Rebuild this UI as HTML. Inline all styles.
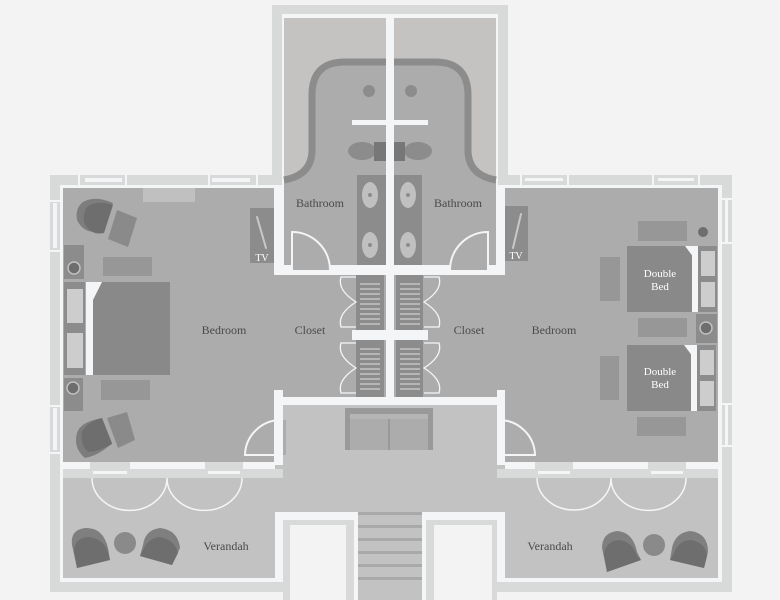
<!DOCTYPE html>
<html><head><meta charset="utf-8"><style>
html,body{margin:0;padding:0;background:#f3f3f3;}
svg{display:block;}
text{font-family:"Liberation Serif",serif;}
</style></head><body>
<svg width="780" height="600" viewBox="0 0 780 600" xmlns="http://www.w3.org/2000/svg">
<rect width="780" height="600" fill="#f3f3f3"/>
<!-- outer light walls -->
<rect x="272" y="5" width="236" height="185" fill="#d8dada"/>
<rect x="50" y="175" width="682" height="417" fill="#d8dada"/>
<!-- inner white -->
<rect x="60" y="185" width="662" height="397" fill="#f4f5f7"/>
<rect x="282" y="14" width="216" height="180" fill="#f4f5f7"/>
<!-- bathroom top -->
<rect x="284" y="18" width="102" height="252" fill="#c4c3c1"/>
<rect x="394" y="18" width="102" height="252" fill="#c4c3c1"/>
<path d="M284,180 Q312,175 312,150 L312,95 Q312,62 345,62 L435,62 Q468,62 468,95 L468,150 Q468,175 496,180 L496,270 L284,270 Z" fill="#acacac"/>
<path d="M284,180 Q312,175 312,150 L312,95 Q312,62 345,62 L435,62 Q468,62 468,95 L468,150 Q468,175 496,180" fill="none" stroke="#8c8c8c" stroke-width="7"/>
<rect x="386" y="14" width="8" height="400" fill="#f4f5f7"/>
<circle cx="369" cy="91" r="6" fill="#8c8c8c"/><circle cx="411" cy="91" r="6" fill="#8c8c8c"/>
<rect x="352" y="120" width="76" height="5" fill="#f4f5f7"/>
<ellipse cx="362" cy="151" rx="14" ry="9" fill="#8c8c8c"/><ellipse cx="418" cy="151" rx="14" ry="9" fill="#8c8c8c"/>
<rect x="374" y="142" width="12" height="19" fill="#777"/><rect x="394" y="142" width="11" height="19" fill="#777"/>
<rect x="357" y="175" width="29" height="90" fill="#8c8c8c"/><rect x="394" y="175" width="28" height="90" fill="#8c8c8c"/>
<g fill="#c0c0c0"><ellipse cx="370" cy="195" rx="8" ry="13"/><ellipse cx="370" cy="245" rx="8" ry="13"/><ellipse cx="408" cy="195" rx="8" ry="13"/><ellipse cx="408" cy="245" rx="8" ry="13"/></g>
<g fill="#8c8c8c"><circle cx="370" cy="195" r="2"/><circle cx="370" cy="245" r="2"/><circle cx="408" cy="195" r="2"/><circle cx="408" cy="245" r="2"/></g>
<!-- bedrooms floors -->
<rect x="63" y="188" width="212" height="274" fill="#acacac"/>
<rect x="283" y="275" width="103" height="122" fill="#acacac"/>
<rect x="505" y="188" width="213" height="274" fill="#acacac"/>
<rect x="394" y="275" width="103" height="122" fill="#acacac"/>
<rect x="275" y="270" width="10" height="120" fill="#acacac"/>
<rect x="495" y="270" width="10" height="120" fill="#acacac"/>
<!-- walls between -->
<rect x="274" y="185" width="9" height="90" fill="#f4f5f7"/>
<rect x="497" y="185" width="8" height="90" fill="#f4f5f7"/>
<rect x="283" y="265" width="8" height="10" fill="#f4f5f7"/>
<rect x="489" y="265" width="8" height="10" fill="#f4f5f7"/>
<rect x="330" y="265" width="120" height="10" fill="#f4f5f7"/>
<path d="M292,275 L292,232 A38,38 0 0 1 330,270" fill="none" stroke="#f4f5f7" stroke-width="2"/>
<path d="M488,275 L488,232 A38,38 0 0 0 450,270" fill="none" stroke="#f4f5f7" stroke-width="2"/>
<!-- closets -->
<rect x="352" y="330" width="76" height="10" fill="#f4f5f7"/>
<rect x="356" y="275" width="28" height="55" fill="#8c8c8c"/><rect x="396" y="275" width="27" height="55" fill="#8c8c8c"/>
<rect x="356" y="340" width="28" height="58" fill="#8c8c8c"/><rect x="396" y="340" width="27" height="58" fill="#8c8c8c"/>
<g stroke="#d0d0d0" stroke-width="1.2">
<path d="M360,284h20M360,289h20M360,294h20M360,299h20M360,304h20M360,309h20M360,314h20M360,319h20M360,324h20"/>
<path d="M400,284h20M400,289h20M400,294h20M400,299h20M400,304h20M400,309h20M400,314h20M400,319h20M400,324h20"/>
<path d="M360,349h20M360,354h20M360,359h20M360,364h20M360,369h20M360,374h20M360,379h20M360,384h20M360,389h20"/>
<path d="M400,349h20M400,354h20M400,359h20M400,364h20M400,369h20M400,374h20M400,379h20M400,384h20M400,389h20"/>
</g>
<g fill="none" stroke="#f4f5f7" stroke-width="1.3">
<path d="M356,277 H341 Q337,290 356,302 Q337,314 341,327 H356"/>
<path d="M356,343 H341 Q337,356 356,368 Q337,380 341,393 H356"/>
<path d="M424,277 H439 Q443,290 424,302 Q443,314 439,327 H424"/>
<path d="M424,343 H439 Q443,356 424,368 Q443,380 439,393 H424"/>
</g>
<!-- hall & verandah -->
<rect x="283" y="405" width="214" height="110" fill="#c2c2c2"/>
<rect x="275" y="397" width="230" height="8" fill="#f4f5f7"/>
<rect x="274" y="390" width="9" height="75" fill="#f4f5f7"/>
<rect x="497" y="390" width="8" height="75" fill="#f4f5f7"/>
<rect x="283" y="420" width="3" height="35" fill="#acacac"/>
<path d="M281,420 A36,36 0 0 0 245,455 L275,455" fill="none" stroke="#f4f5f7" stroke-width="2"/>
<path d="M499,420 A36,36 0 0 1 535,455 L505,455" fill="none" stroke="#f4f5f7" stroke-width="2"/>
<rect x="345" y="408" width="88" height="42" fill="#999"/>
<rect x="350" y="414" width="78" height="5" fill="#b5b5b5"/>
<rect x="350" y="419" width="38" height="31" fill="#acacac"/><rect x="390" y="419" width="38" height="31" fill="#acacac"/>
<rect x="63" y="478" width="212" height="100" fill="#c2c2c2"/>
<rect x="505" y="478" width="213" height="100" fill="#c2c2c2"/>
<rect x="275" y="465" width="230" height="50" fill="#c2c2c2"/>
<!-- bottom bedroom walls with windows -->
<rect x="63" y="469" width="220" height="9" fill="#d8dada"/>
<rect x="497" y="469" width="221" height="9" fill="#d8dada"/>
<g fill="#d8dada"><rect x="90" y="462" width="40" height="16"/><rect x="205" y="462" width="38" height="16"/><rect x="535" y="462" width="38" height="16"/><rect x="648" y="462" width="38" height="16"/></g>
<g fill="#f4f5f7"><rect x="93" y="471" width="34" height="3"/><rect x="208" y="471" width="32" height="3"/><rect x="538" y="471" width="32" height="3"/><rect x="651" y="471" width="32" height="3"/></g>
<g fill="none" stroke="#f4f5f7" stroke-width="1.5">
<path d="M92,478 A37,32 0 0 0 167,478 A37,32 0 0 0 242,478"/>
<path d="M537,478 A37,32 0 0 0 611,478 A37,32 0 0 0 686,478"/>
</g>
<!-- bottom cutouts and stairs -->
<rect x="275" y="512" width="83" height="88" fill="#f4f5f7"/>
<rect x="422" y="512" width="83" height="88" fill="#f4f5f7"/>
<rect x="283" y="520" width="71" height="80" fill="#d8dada"/>
<rect x="426" y="520" width="71" height="80" fill="#d8dada"/>
<rect x="290" y="525" width="56" height="75" fill="#f3f3f3"/>
<rect x="434" y="525" width="58" height="75" fill="#f3f3f3"/>
<rect x="50" y="582" width="238" height="18" fill="#f3f3f3"/><rect x="50" y="582" width="238" height="10" fill="#d8dada"/>
<rect x="492" y="582" width="240" height="18" fill="#f3f3f3"/><rect x="492" y="582" width="240" height="10" fill="#d8dada"/>
<rect x="283" y="582" width="5" height="18" fill="#d8dada"/><rect x="492" y="582" width="5" height="18" fill="#d8dada"/>
<rect x="358" y="512" width="64" height="88" fill="#c2c2c2"/>
<g fill="#a9a9a9"><rect x="358" y="512" width="64" height="3"/><rect x="358" y="525" width="64" height="3"/><rect x="358" y="538" width="64" height="3"/><rect x="358" y="551" width="64" height="3"/><rect x="358" y="564" width="64" height="3"/><rect x="358" y="577" width="64" height="3"/></g>
<!-- side windows -->
<g fill="#f4f5f7"><rect x="53" y="203" width="4" height="45"/><rect x="53" y="408" width="4" height="42"/><rect x="725" y="200" width="3" height="42"/><rect x="725" y="405" width="3" height="40"/></g>
<g fill="#f4f5f7"><rect x="722" y="198" width="10" height="2"/><rect x="722" y="242" width="10" height="2"/><rect x="722" y="403" width="10" height="2"/><rect x="722" y="445" width="10" height="2"/>
<rect x="50" y="200" width="10" height="2"/><rect x="50" y="250" width="10" height="2"/><rect x="50" y="405" width="10" height="2"/><rect x="50" y="452" width="10" height="2"/></g>
<g fill="#f4f5f7"><rect x="85" y="178" width="37" height="4"/><rect x="212" y="178" width="38" height="4"/><rect x="525" y="178" width="38" height="3"/><rect x="658" y="178" width="36" height="3"/>
<rect x="78" y="175" width="2" height="10"/><rect x="125" y="175" width="2" height="10"/><rect x="208" y="175" width="2" height="10"/><rect x="256" y="175" width="2" height="10"/>
<rect x="520" y="175" width="2" height="10"/><rect x="567" y="175" width="2" height="10"/><rect x="652" y="175" width="2" height="10"/><rect x="698" y="175" width="2" height="10"/></g>
<rect x="143" y="188" width="52" height="14" fill="#c0c0c0"/>
<!-- left bedroom furniture -->
<path d="M83,202 Q95,195 113,203 L102,230 Q85,236 77,220 Q75,208 83,202Z" fill="#7d7d7d"/>
<path d="M88,206 Q98,200 113,205 L104,233 Q90,236 84,222 Q83,211 88,206Z" fill="#6d6e6d"/>
<path d="M117,210 L137,218 L128,247 L108,239Z" fill="#8a8a8a"/>
<rect x="64" y="245" width="20" height="34" fill="#8c8c8c"/><circle cx="74" cy="268" r="6" fill="#6e6e6e" stroke="#c0c0c0" stroke-width="1.5"/>
<rect x="103" y="257" width="49" height="19" fill="#979797"/>
<rect x="64" y="282" width="21" height="93" fill="#8c8c8c"/>
<rect x="67" y="289" width="16" height="34" fill="#cdcdcd"/><rect x="67" y="333" width="16" height="35" fill="#cdcdcd"/>
<rect x="86" y="282" width="7" height="93" fill="#f4f5f7"/>
<rect x="93" y="282" width="77" height="93" fill="#898989"/>
<path d="M93,282 L102,282 L93,300Z" fill="#f4f5f7"/>
<rect x="64" y="378" width="19" height="33" fill="#8c8c8c"/><circle cx="73" cy="388" r="6" fill="#6e6e6e" stroke="#c0c0c0" stroke-width="1.5"/>
<rect x="101" y="380" width="49" height="20" fill="#979797"/>
<path d="M77,433 Q80,422 102,418 L112,443 Q100,455 85,458 Q73,448 77,433Z" fill="#7d7d7d"/>
<path d="M82,432 Q86,423 102,418 L112,444 Q98,452 88,452 Q80,444 82,432Z" fill="#6d6e6d"/>
<path d="M107,418 L127,412 L135,440 L118,448Z" fill="#8a8a8a"/>
<rect x="250" y="208" width="24" height="55" fill="#8c8c8c"/>
<line x1="257" y1="217" x2="266" y2="248" stroke="#c8c8c8" stroke-width="2" stroke-linecap="round"/>
<text x="262" y="261" font-size="10" fill="#fff" text-anchor="middle">TV</text>
<!-- right bedroom furniture -->
<rect x="505" y="206" width="23" height="55" fill="#8c8c8c"/>
<line x1="521" y1="214" x2="513" y2="248" stroke="#c8c8c8" stroke-width="2" stroke-linecap="round"/>
<text x="516" y="259" font-size="10" fill="#fff" text-anchor="middle">TV</text>
<rect x="638" y="221" width="49" height="20" fill="#979797"/><circle cx="703" cy="232" r="5" fill="#6e6e6e"/>
<rect x="600" y="257" width="20" height="44" fill="#979797"/>
<rect x="627" y="246" width="71" height="66" fill="#898989"/>
<path d="M685,246 L697,246 L697,262Z" fill="#f4f5f7"/>
<rect x="692" y="246" width="6" height="66" fill="#f4f5f7"/>
<rect x="698" y="246" width="19" height="66" fill="#8c8c8c"/>
<rect x="701" y="251" width="14" height="25" fill="#cdcdcd"/><rect x="701" y="282" width="14" height="25" fill="#cdcdcd"/>
<rect x="638" y="318" width="49" height="19" fill="#979797"/>
<rect x="696" y="314" width="21" height="29" fill="#8c8c8c"/><circle cx="706" cy="328" r="6" fill="#6e6e6e" stroke="#c0c0c0" stroke-width="1.5"/>
<rect x="600" y="356" width="19" height="44" fill="#979797"/>
<rect x="627" y="345" width="70" height="66" fill="#898989"/>
<path d="M684,345 L696,345 L696,361Z" fill="#f4f5f7"/>
<rect x="691" y="345" width="6" height="66" fill="#f4f5f7"/>
<rect x="697" y="345" width="19" height="66" fill="#8c8c8c"/>
<rect x="700" y="350" width="14" height="25" fill="#cdcdcd"/><rect x="700" y="381" width="14" height="25" fill="#cdcdcd"/>
<rect x="637" y="417" width="49" height="19" fill="#979797"/>
<g font-size="11" fill="#fff" text-anchor="middle"><text x="660" y="277">Double</text><text x="660" y="290">Bed</text><text x="660" y="375">Double</text><text x="660" y="388">Bed</text></g>
<!-- verandah furniture -->
<path d="M72,545 Q70,530 85,528 Q103,527 108,548 L110,560 L77,568Z" fill="#7f7f7f"/>
<path d="M74,552 Q74,538 88,537 Q103,538 108,552 L110,560 L77,568Z" fill="#6d6e6d"/>
<ellipse cx="125" cy="543" rx="11" ry="11" fill="#8a8a8a"/>
<path d="M143,545 Q145,530 160,528 Q178,530 180,548 L172,565 L140,556Z" fill="#7f7f7f"/>
<path d="M143,550 Q148,538 160,537 Q175,540 178,553 L172,565 L140,556Z" fill="#6d6e6d"/>
<path d="M602,548 Q602,533 617,531 Q633,532 637,552 L641,560 L607,572Z" fill="#7f7f7f"/>
<path d="M604,554 Q606,541 619,540 Q633,542 637,556 L641,560 L607,572Z" fill="#6d6e6d"/>
<ellipse cx="654" cy="545" rx="11" ry="11" fill="#8a8a8a"/>
<path d="M672,548 Q675,533 690,531 Q708,533 708,552 L704,568 L670,560Z" fill="#7f7f7f"/>
<path d="M674,553 Q679,540 691,540 Q706,543 707,556 L704,568 L670,560Z" fill="#6d6e6d"/>
<!-- labels -->
<g font-size="12" fill="#4a4a4a" text-anchor="middle">
<text x="320" y="207">Bathroom</text><text x="458" y="207">Bathroom</text>
<text x="224" y="334">Bedroom</text><text x="310" y="334">Closet</text>
<text x="469" y="334">Closet</text><text x="554" y="334">Bedroom</text>
<text x="226" y="550">Verandah</text><text x="550" y="550">Verandah</text>
</g>
</svg>
</body></html>
